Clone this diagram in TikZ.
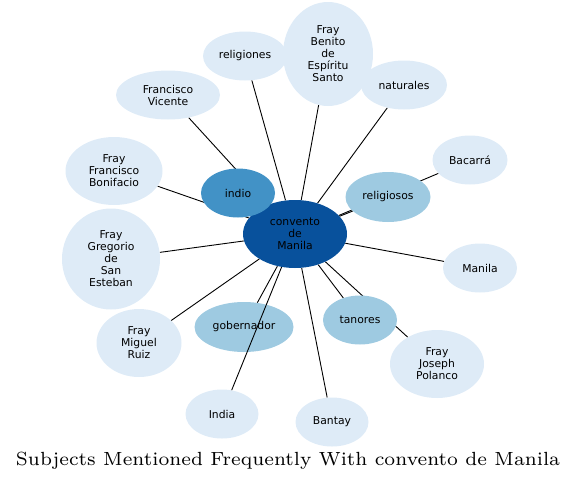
\documentclass[tikz,border=0pt]{standalone}
\usepackage{fontspec}
\newfontfamily\subjfont{DejaVu Sans}
\definecolor{hubBlue}{HTML}{08519C}
\definecolor{midBlue}{HTML}{4292C6}
\definecolor{softBlue}{HTML}{9ECAE1}
\definecolor{paleBlue}{HTML}{DEEBF7}
\usetikzlibrary{shapes.geometric, backgrounds}

\begin{document}
\begin{tikzpicture}[x=1pt, y=-1pt,
  subject/.style={ellipse, inner sep=0pt, align=center,
                  font=\subjfont\fontsize{10.8}{12}\selectfont},
  sz/.style 2 args={minimum width=#1pt, minimum height=#2pt},
  hub/.style={subject, fill=hubBlue},
  strong/.style={subject, fill=midBlue},
  medium/.style={subject, fill=softBlue},
  weak/.style={subject, fill=paleBlue},
  link/.style={black, line width=0.9pt},
  title/.style={inner sep=0pt},
]
  \useasboundingbox (0,0) rectangle (577,482);

  \node[hub, sz={104}{68}] (conv) at (295,234) {convento\\de\\Manila};

  \node[strong, sz={74}{49}] (indio) at (238,193) {indio};
  \node[medium, sz={85}{50}] (relig) at (388,197) {religiosos};
  \node[medium, sz={99}{50}] (gober) at (244,327) {gobernador};
  \node[medium, sz={74}{49}] (tanor) at (360,320) {tanores};

  \node[weak, sz={84}{49}] (religs) at (245,56) {religiones};
  \node[weak, sz={90}{104}] (benito) at (328,54) {Fray\\Benito\\de\\Espíritu\\Santo};
  \node[weak, sz={86}{49}] (natur) at (404,85) {naturales};
  \node[weak, sz={104}{49}] (vicente) at (168,95) {Francisco\\Vicente};
  \node[weak, sz={75}{49}] (bacarra) at (470,160) {Bacarrá};
  \node[weak, sz={97}{68}] (bonif) at (114,171) {Fray\\Francisco\\Bonifacio};
  \node[weak, sz={98}{101}] (gregor) at (111,259) {Fray\\Gregorio\\de\\San\\Esteban};
  \node[weak, sz={74}{49}] (manila) at (480,268) {Manila};
  \node[weak, sz={85}{68}] (ruiz) at (139,343) {Fray\\Miguel\\Ruiz};
  \node[weak, sz={94}{68}] (polanco) at (437,364) {Fray\\Joseph\\Polanco};
  \node[weak, sz={73}{49}] (india) at (222,414) {India};
  \node[weak, sz={73}{49}] (bantay) at (332,422) {Bantay};

  \begin{scope}[on background layer]
    \foreach \other in {indio, relig, gober, tanor, religs, benito, natur,
                        vicente, bacarra, bonif, gregor, manila, ruiz,
                        polanco, bantay}
      \draw[link] (conv) -- (\other);
  \end{scope}
  % this one runs over gobernador
  \draw[link] (conv) -- (india);

  \node[title] (caption) at (288,461) {\resizebox{544pt}{!}{\fontsize{7}{8}\selectfont Subjects Mentioned Frequently With convento de Manila}};
\end{tikzpicture}
\end{document}
